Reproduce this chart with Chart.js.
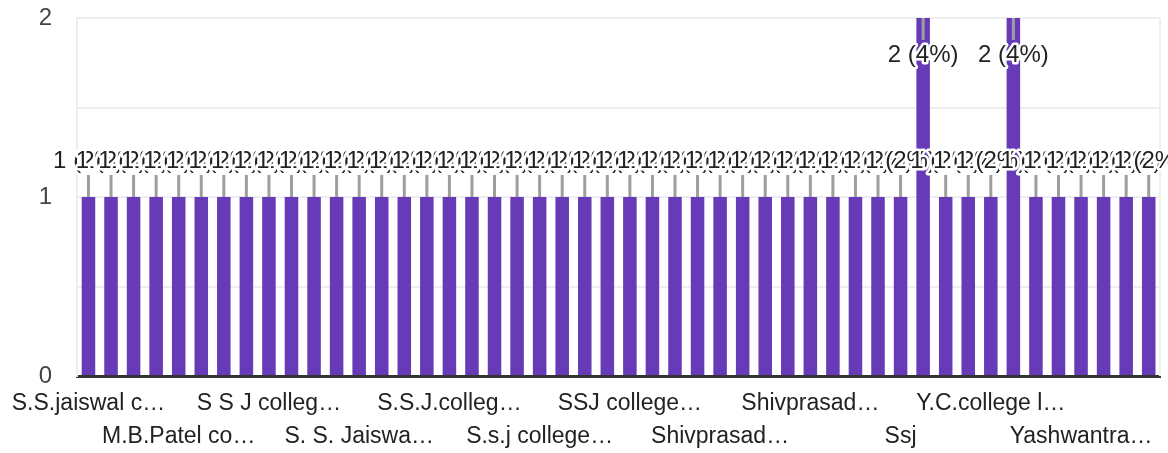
<!DOCTYPE html>
<html>
<head>
<meta charset="utf-8">
<script src="https://cdn.jsdelivr.net/npm/chart.js@4"></script>
<style>
  body { margin: 0; background: #fff; }
  #wrap { width: 1168px; height: 453px; position: relative; }
</style>
</head>
<body>
<div id="wrap"><canvas id="myChart"></canvas></div>
<script>
// categories (college names as answered)
const categories = [
  "S.S.jaiswal college Arjuni Morgaon", "Bhiwapur Mahavidyalaya", "C.J. Patel college Tirora", "D.B. Science College Gondia",
  "M.B.Patel college Sakoli", "Manoharbhai Patel College", "N.M.D. College Gondia", "Nutan Mahavidyalaya",
  "S S J college Arjuni", "S S Jaiswal College", "S S Jaiswal college arjuni morgaon", "S. S. J. College",
  "S. S. Jaiswa college Arjuni/Mor.", "S. S. Jaiswal college, Arjuni", "S.S. Jaiswal College", "S.S.J College Arjuni Mor",
  "S.S.J.college Arjuni Morgaon", "S.S.Jaiswal College", "S.S.Jaiswal College Arjuni", "S.S.Jaiswal Mahavidyalaya",
  "S.s.j college arjuni", "S.s.jaiswal college", "SSJ College", "SSJ College Arjuni",
  "SSJ college Arjuni Morgaon", "SSJ mahavidyalaya", "Sakoli college", "Shivaji College",
  "Shivprasad Sadanand Jaiswal College", "Shivprasad Sadanand Jaiswal College Arjuni", "Shivprasad Sadanand Jaiswal Mahavidyalaya", "Shivprasad Jaiswal College",
  "Shivprasad Sadanand Jaiswal college Arjuni Morgaon", "Shri S.S. Jaiswal college", "Smt. Jaiswal College", "Ss jaiswal college",
  "Ssj", "Ssj college", "Ssj college arjuni", "Ssj mahavidyalaya",
  "Y.C.college lakhani", "Y.C. College Lakhani", "Yashwantrao Chavan College", "Yashwantrao College Lakhani",
  "Yashwantrao Chavan Mahavidyalaya Lakhani", "Yashwantrao college", "Z.P. college", "Zilla Parishad College"
];
// number of responses per answer
const counts = [
  1, 1, 1, 1, 1, 1, 1, 1, 1, 1, 1, 1,
  1, 1, 1, 1, 1, 1, 1, 1, 1, 1, 1, 1,
  1, 1, 1, 1, 1, 1, 1, 1, 1, 1, 1, 1,
  1, 2, 1, 1, 1, 2, 1, 1, 1, 1, 1, 1
];
const yTickLabels = [0, 1, 2];

const total = counts.reduce((a, b) => a + b, 0);
const FONT = '"Liberation Sans", Arial, sans-serif';

// truncate a long label with an ellipsis, like the forms summary does
const measureCtx = document.createElement('canvas').getContext('2d');
measureCtx.font = '23px ' + FONT;
function shorten(text, maxW) {
  if (measureCtx.measureText(text).width <= maxW) return text;
  let s = text;
  while (s.length > 0 && measureCtx.measureText(s.trimEnd() + '…').width > maxW) {
    s = s.slice(0, -1);
  }
  return s.trimEnd() + '…';
}

// leader lines + value labels above each bar
const valueLabels = {
  id: 'valueLabels',
  afterDatasetsDraw(chart) {
    const ctx = chart.ctx;
    const meta = chart.getDatasetMeta(0);
    ctx.save();
    ctx.font = '24px ' + FONT;
    ctx.textAlign = 'center';
    ctx.textBaseline = 'middle';
    ctx.lineJoin = 'round';
    meta.data.forEach((bar, i) => {
      const v = counts[i];
      const txt = v + ' (' + Math.round(v / total * 100) + '%)';
      let lineFrom = bar.y, lineTo = bar.y - 22, ty = bar.y - 36;
      if (ty - 12 < 0) { lineTo = bar.y + 22; ty = bar.y + 37; }
      ctx.strokeStyle = '#9e9e9e';
      ctx.lineWidth = 3;
      ctx.beginPath();
      ctx.moveTo(bar.x, lineFrom);
      ctx.lineTo(bar.x, lineTo);
      ctx.stroke();
      ctx.strokeStyle = '#fff';
      ctx.lineWidth = 5;
      ctx.strokeText(txt, bar.x, ty);
      ctx.fillStyle = '#222';
      ctx.fillText(txt, bar.x, ty);
    });
    ctx.restore();
  },
  beforeDatasetsDraw(chart) {
    const a = chart.chartArea;
    const ctx = chart.ctx;
    ctx.save();
    ctx.strokeStyle = '#eeeeee';
    ctx.lineWidth = 2;
    ctx.beginPath();
    ctx.moveTo(a.right, a.top);
    ctx.lineTo(a.right, a.bottom);
    ctx.stroke();
    ctx.restore();
  }
};

const ctx = document.getElementById('myChart').getContext('2d');
const myChart = new Chart(ctx, {
  type: 'bar',
  data: {
    labels: categories,
    datasets: [{
      data: counts,
      backgroundColor: '#673ab7',
      barPercentage: 0.6,
      categoryPercentage: 1.0
    }]
  },
  options: {
    responsive: true,
    maintainAspectRatio: false,
    animation: false,
    layout: { padding: { top: 0, right: 8, left: 0, bottom: 0 } },
    plugins: {
      legend: { display: false },
      tooltip: { enabled: false }
    },
    scales: {
      x: {
        grid: { display: false, drawTicks: false },
        border: { display: true, color: '#333', width: 3 },
        afterFit: s => { s.height = 77; },
        ticks: {
          autoSkip: false,
          maxRotation: 0,
          minRotation: 0,
          padding: 11,
          color: '#222',
          font: { family: FONT, size: 23, lineHeight: 1.43 },
          callback: function(value, index) {
            if (index % 4 !== 0) return '';
            const t = shorten(categories[index], 154);
            return (index / 4) % 2 === 0 ? [t] : ['', t];
          }
        }
      },
      y: {
        min: 0,
        max: 2,
        afterFit: s => { s.width = 75; s.paddingTop = 18; s.paddingBottom = 0; },
        grid: {
          drawTicks: false,
          lineWidth: 2,
          color: c => (c.tick && c.tick.value === 0) ? 'rgba(0,0,0,0)' : '#eeeeee'
        },
        border: { display: true, color: '#eeeeee', width: 2 },
        ticks: {
          stepSize: 0.5,
          padding: 25,
          color: '#444',
          font: { family: FONT, size: 24 },
          callback: v => yTickLabels.includes(v) ? String(v) : ''
        }
      }
    }
  },
  plugins: [valueLabels]
});
</script>
</body>
</html>
